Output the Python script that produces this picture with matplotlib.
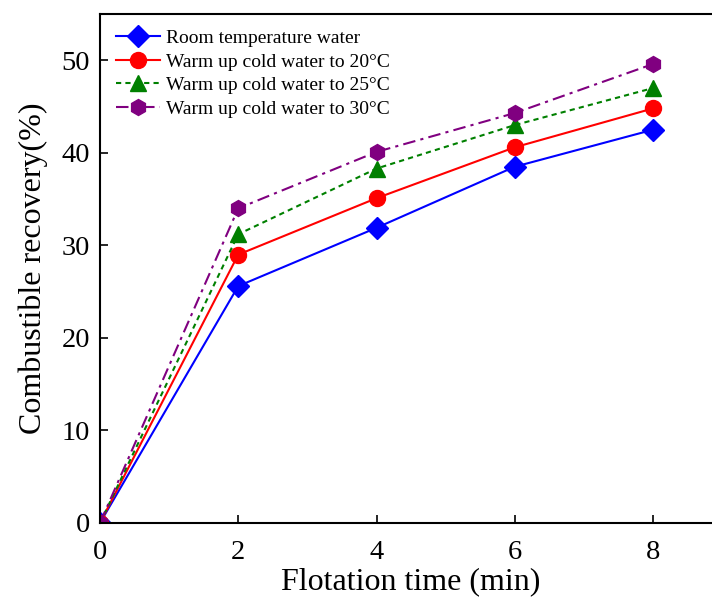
import matplotlib

matplotlib.use("Agg")
import matplotlib.pyplot as plt

plt.rcParams["font.family"] = ["Liberation Serif", "DejaVu Serif"]

time_min = [0, 2, 4, 6, 8]
room_temp = [0, 25.6, 31.9, 38.5, 42.5]
warm_20 = [0, 29.0, 35.1, 40.6, 44.8]
warm_25 = [0, 31.2, 38.3, 43.0, 47.0]
warm_30 = [0, 34.0, 40.1, 44.3, 49.6]

labels = [
    "Room temperature water",
    "Warm up cold water to 20\u00b0C",
    "Warm up cold water to 25\u00b0C",
    "Warm up cold water to 30\u00b0C",
]

fig = plt.figure(figsize=(7.12, 5.99), dpi=100)
ax = fig.add_axes([0.1404, 0.1269, 0.874, 0.8497])

ax.plot(time_min, room_temp, color="blue", lw=1.5, ls="-",
        marker="D", ms=11, label=labels[0])
ax.plot(time_min, warm_20, color="red", lw=1.5, ls="-",
        marker="o", ms=11.5, label=labels[1])
ax.plot(time_min, warm_25, color="green", lw=1.5, ls=(0, (2.5, 2)),
        marker="^", ms=11.5, label=labels[2])
ax.plot(time_min, warm_30, color="purple", lw=1.5, ls=(0, (6, 2.5, 1.5, 2.5)),
        marker="h", ms=11.5, label=labels[3])

ax.set_xlim(0, 9)
ax.set_ylim(0, 55)
ax.set_xticks([0, 2, 4, 6, 8])
ax.set_yticks([0, 10, 20, 30, 40, 50])
ax.tick_params(direction="in", length=6, width=1.2, labelsize=20.5)
ax.tick_params(axis="y", pad=7)
ax.tick_params(axis="x", pad=12)
for side in ("left", "bottom", "top", "right"):
    ax.spines[side].set_linewidth(1.5)

ax.set_xlabel("Flotation time (min)", fontsize=23, labelpad=2)
ax.set_ylabel("Combustible recovery(%)", fontsize=23, labelpad=10)

ax.legend(loc="upper left", frameon=False, fontsize=14,
          handlelength=2.3, labelspacing=0.3, borderaxespad=0.4,
          handletextpad=0.3, bbox_to_anchor=(0.0, 1.0))

fig.savefig("out.png", dpi=100)
